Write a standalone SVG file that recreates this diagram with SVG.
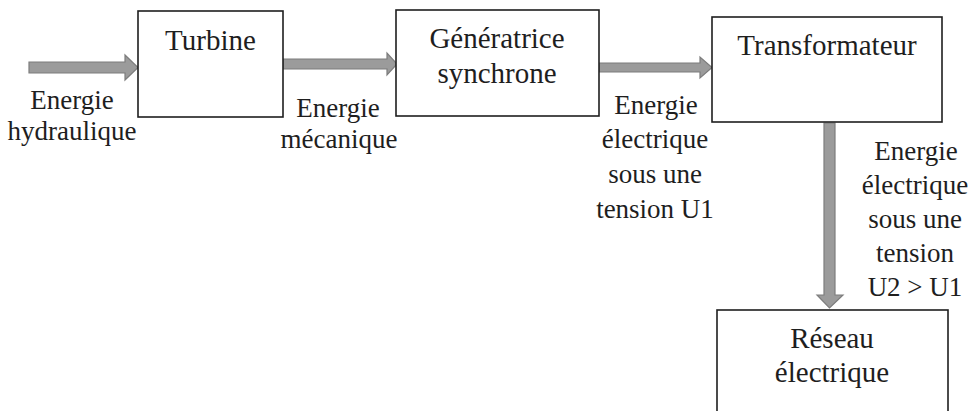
<svg xmlns="http://www.w3.org/2000/svg" width="972" height="411" viewBox="0 0 972 411" font-family="'Liberation Serif', 'Times New Roman', serif">
<style>
.box{fill:#fff;stroke:#1e1e1e;stroke-width:1.6}
.arr{fill:#9b9b9b;stroke:#7d7d7d;stroke-width:1.2;stroke-linejoin:miter}
text{font-family:"Liberation Serif","Times New Roman",serif;fill:#1e1e1e;text-anchor:middle}
.bl{font-size:29px}
.lb{font-size:27px}
</style>
<rect width="972" height="411" fill="#fff"/>
<g id="connectors">
<polygon class="arr" points="29,62 125,62 125,55 138,67.5 125,80 125,73 29,73"/>
<polygon class="arr" points="283,59 387,59 387,53 397,64 387,75 387,69 283,69"/>
<polygon class="arr" points="599,63 700,63 700,57 712,67.5 700,78 700,72 599,72"/>
<polygon class="arr" points="824,123 835,123 835,295 843,295 829.5,308 817,295 824,295"/>
</g>
<g id="turbine">
<rect class="box" x="138" y="11" width="145" height="106"/>
<text class="bl" x="210.5" y="50">Turbine</text>
</g>
<g id="generatrice">
<rect class="box" x="396" y="10" width="203" height="106"/>
<text class="bl" x="497" y="48">Génératrice</text>
<text class="bl" x="497" y="83">synchrone</text>
</g>
<g id="transformateur">
<rect class="box" x="712" y="17" width="230" height="105"/>
<text class="bl" x="827" y="55">Transformateur</text>
</g>
<g id="reseau">
<rect class="box" x="717" y="310" width="231" height="110"/>
<text class="bl" x="832" y="348">Réseau</text>
<text class="bl" x="832" y="382">électrique</text>
</g>
<g id="labels">
<text class="lb" x="72" y="109">Energie</text>
<text class="lb" x="72" y="140">hydraulique</text>
<text class="lb" x="338" y="117">Energie</text>
<text class="lb" x="339" y="148">mécanique</text>
<text class="lb" x="656" y="114">Energie</text>
<text class="lb" x="655" y="148">électrique</text>
<text class="lb" x="655" y="183">sous une</text>
<text class="lb" x="655" y="218">tension U1</text>
<text class="lb" x="916" y="160">Energie</text>
<text class="lb" x="915" y="194">électrique</text>
<text class="lb" x="915" y="228">sous une</text>
<text class="lb" x="915" y="262">tension</text>
<text class="lb" x="915" y="296">U2 &gt; U1</text>
</g>
</svg>
